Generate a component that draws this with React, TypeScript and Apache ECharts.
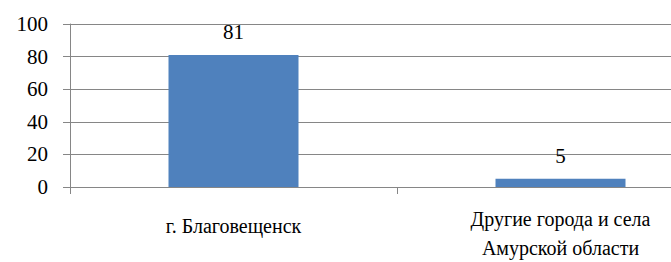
import React, { useEffect, useRef } from "react";
import * as echarts from "echarts";

const categories = ["г. Благовещенск", "Другие города и села\nАмурской области"];
const values = [81, 5];
const yTicks = [0, 20, 40, 60, 80, 100];

export default function App() {
  const ref = useRef<HTMLDivElement>(null);
  useEffect(() => {
    if (!ref.current) return;
    const chart = echarts.init(ref.current, null, { renderer: "svg" });
    const font = "Liberation Serif, Times New Roman, serif";
    chart.setOption({
      animation: false,
      backgroundColor: "#ffffff",
      textStyle: { fontFamily: font },
      grid: {
        left: 70,
        top: 24,
        width: 654,
        height: 163,
        containLabel: false,
        outerBoundsMode: "none",
      },
      xAxis: {
        type: "category",
        data: [
          { value: categories[0], textStyle: { padding: [7, 0, 0, 0] } },
          categories[1],
        ],
        axisLine: { lineStyle: { color: "#868686", width: 1 } },
        axisTick: { show: true, length: 7, lineStyle: { color: "#868686" } },
        axisLabel: { color: "#000", fontSize: 20, fontFamily: font, margin: 17, lineHeight: 29 },
      },
      yAxis: {
        type: "value",
        min: yTicks[0],
        max: yTicks[yTicks.length - 1],
        interval: 20,
        axisLine: { show: true, lineStyle: { color: "#868686", width: 1 } },
        axisTick: { show: true, length: 7, lineStyle: { color: "#868686" } },
        splitLine: { show: true, lineStyle: { color: "#868686", width: 1 } },
        axisLabel: { color: "#000", fontSize: 21, fontFamily: font, margin: 22 },
      },
      series: [
        {
          type: "bar",
          data: values,
          barWidth: 130,
          itemStyle: { color: "#4F81BD" },
          label: {
            show: true,
            position: "top",
            distance: 12,
            color: "#000",
            fontSize: 21,
            fontFamily: font,
          },
        },
      ],
    });
    return () => chart.dispose();
  }, []);
  return (
    <div
      ref={ref}
      style={{ position: "fixed", left: 0, top: 0, width: 671, height: 262, background: "#fff" }}
    />
  );
}
